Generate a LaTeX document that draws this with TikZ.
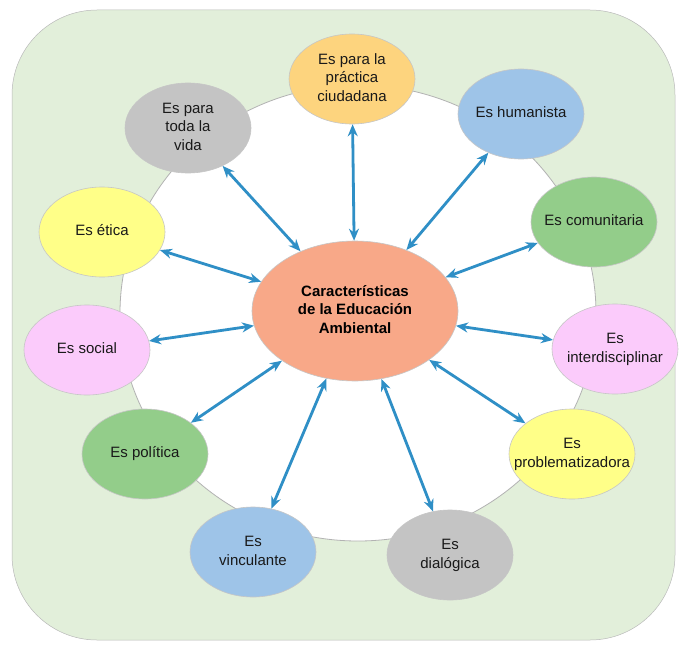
\documentclass[tikz,border=0pt]{standalone}
\usepackage{fontspec}
\setmainfont{Liberation Sans}
\usepackage{xcolor}
\usetikzlibrary{shapes,arrows.meta,positioning}

\definecolor{bggreen}{HTML}{E2EFDA}
\definecolor{linkblue}{HTML}{2F8FC6}
\definecolor{salmon}{HTML}{F8A888}
\definecolor{orangeish}{HTML}{FDD47E}
\definecolor{greyish}{HTML}{C4C4C4}
\definecolor{blueish}{HTML}{9EC4E8}
\definecolor{greenish}{HTML}{93CD8A}
\definecolor{yellowish}{HTML}{FFFF88}
\definecolor{pinkish}{HTML}{FBCBFB}

% text sits in a zero size box, so every ellipse keeps the same size
\newcommand{\feattext}[1]{\smash{\raisebox{-0.25em}{\makebox[0pt]{\begin{tabular}{@{}c@{}}#1\end{tabular}}}}}

\begin{document}
\begin{tikzpicture}[x=1pt, y=-1pt,
  feat/.style={ellipse, draw=gray!45, line width=0.6pt, minimum width=126pt, minimum height=90pt, inner sep=0pt, font=\fontsize{15}{18.5}\selectfont, text=black!90},
  link/.style={{Stealth[length=12pt,width=10pt]}-{Stealth[length=12pt,width=10pt]}, draw=linkblue, line width=2.8pt}]
\useasboundingbox (0,0) rectangle (679,650);

% background
\draw[gray!55, fill=bggreen, line width=0.5pt, rounded corners=85pt] (12,10) rectangle (675,640);
\draw[gray!60, fill=white, line width=0.8pt] (358,313) ellipse (238 and 228);

% centre
\node[feat, fill=salmon, minimum width=206pt, minimum height=140pt, font=\bfseries\fontsize{15}{18.5}\selectfont, text=black] (center) at (355,311) {\feattext{Características\\de la Educación\\Ambiental}};

% outer ring
\node[feat, fill=orangeish] (practica) at (352,79) {\feattext{Es para la\\práctica\\ciudadana}};
\node[feat, fill=greyish] (vida) at (188,128) {\feattext{Es para\\toda la\\vida}};
\node[feat, fill=blueish] (humanista) at (521,114) {\feattext{Es humanista}};
\node[feat, fill=greenish] (comunitaria) at (594,222) {\feattext{Es comunitaria}};
\node[feat, fill=yellowish] (etica) at (102,232) {\feattext{Es ética}};
\node[feat, fill=pinkish] (social) at (87,350) {\feattext{Es social}};
\node[feat, fill=pinkish] (interdis) at (615,349) {\feattext{Es\\interdisciplinar}};
\node[feat, fill=greenish] (politica) at (145,454) {\feattext{Es política}};
\node[feat, fill=yellowish] (problem) at (572,454) {\feattext{Es\\problematizadora}};
\node[feat, fill=blueish] (vinculante) at (253,552) {\feattext{Es\\vinculante}};
\node[feat, fill=greyish] (dialogica) at (450,555) {\feattext{Es\\dialógica}};

% arrows
\foreach \n in {practica,vida,humanista,comunitaria,etica,social,interdis,politica,problem,vinculante,dialogica}
  \draw[link] (center) -- (\n);
\end{tikzpicture}
\end{document}
